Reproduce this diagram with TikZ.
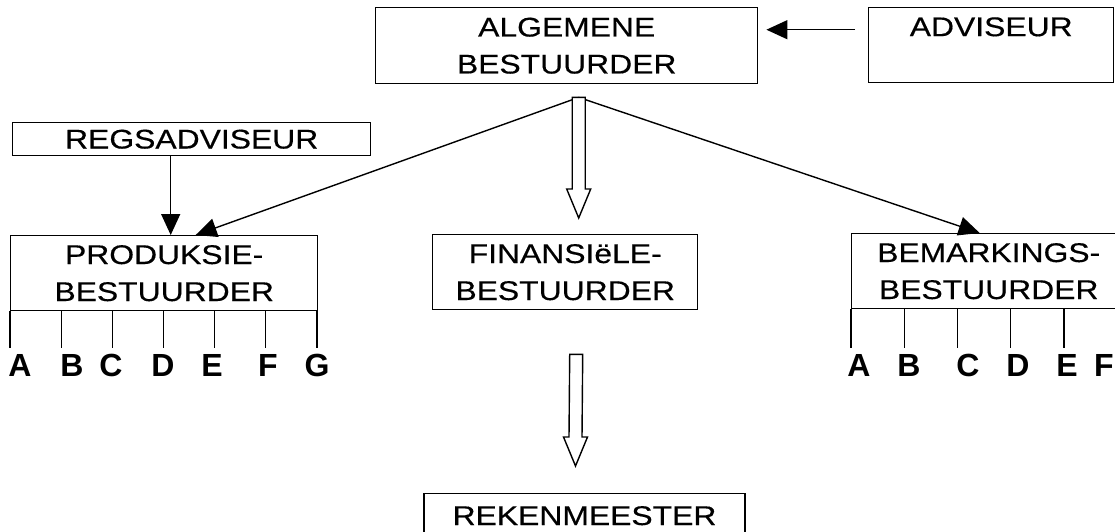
\documentclass[tikz,border=0pt]{standalone}
\usepackage{fontspec}
\setmainfont{Liberation Sans}[FakeStretch=1.18,FakeBold=0.4]
\newfontfamily\letterfont{Liberation Sans}
\usetikzlibrary{arrows.meta,calc}
\tikzset{
  box/.style={draw, line width=1.4pt, inner sep=0pt, align=center,
    font=\fontsize{27}{37}\selectfont, anchor=north west},
  arr/.style={line width=1.4pt, -{Triangle[length=21pt,width=19pt]}},
  hollow/.style={draw, line width=1.4pt, fill=white, line join=miter},
  tick/.style={line width=1.1pt},
  letter/.style={font=\letterfont\fontsize{32}{32}\selectfont\bfseries, inner sep=0pt}
}
\newcommand\hollowarrow[2]{%
  \draw[hollow] ($(#1)+(-6.5,0)$) -- ($(#2)+(-6.5,29)$) -- ($(#2)+(-12,29)$) -- (#2)
    -- ($(#2)+(12,29)$) -- ($(#2)+(6.5,29)$) -- ($(#1)+(6.5,0)$) -- cycle;}
\begin{document}
\begin{tikzpicture}[x=1pt,y=1pt]
\useasboundingbox (0,0) rectangle (1115,-531);
\clip (0,0) rectangle (1115,-531);
% boxes
\node[box, minimum width=382pt, minimum height=76pt] (alg) at (375,-7) {ALGEMENE\\BESTUURDER};
\node[box, minimum width=245pt, minimum height=75pt] (adv) at (868,-7) {ADVISEUR\\\mbox{}};
\node[box, minimum width=358pt, minimum height=33pt] (regs) at (12,-122) {REGSADVISEUR};
\node[box, minimum width=307pt, minimum height=75pt] (prod) at (10,-235) {PRODUKSIE-\\BESTUURDER};
\node[box, minimum width=265pt, minimum height=75pt] (fin) at (432,-234) {FINANSIëLE-\\BESTUURDER};
\node[box, minimum width=274pt, minimum height=75pt] (bem) at (851,-233) {BEMARKINGS-\\BESTUURDER};
\node[box, minimum width=321pt, minimum height=44pt, anchor=north] (rek) at (584.5,-493) {REKENMEESTER};
% connectors
\draw[arr] ([yshift=15.5pt,xshift=-13pt]adv.west) -- ([yshift=16pt,xshift=8pt]alg.east);
\draw[arr] ([xshift=-21pt]regs.south) -- ([xshift=6.5pt]prod.north);
\coordinate (apex) at ([xshift=12pt,yshift=-13pt]alg.south);
\draw[arr] (apex) -- ([xshift=31.5pt]prod.north);
\draw[arr] (apex) -- ([xshift=-9pt]bem.north);
\coordinate (tipA) at ([xshift=13.5pt,yshift=16pt]fin.north);
\hollowarrow{apex}{tipA}
\coordinate (topB) at ([xshift=11pt,yshift=-44pt]fin.south);
\coordinate (tipB) at ([xshift=-9pt,yshift=27pt]rek.north);
\hollowarrow{topB}{tipB}
% ticks
\foreach \i in {0,...,6}
  \draw[tick] ($(prod.south west)+(\i*51.17,0)$) -- ++(0,-37);
\foreach \i in {0,...,4}
  \draw[tick] ($(bem.south west)+(\i*53.25,0)$) -- ++(0,-39);
% letters
\foreach \l/\x in {A/20,B/72,C/111,D/163,E/212,F/268,G/317}
  \node[letter] (p\l) at (\x,-365) {\l};
\foreach \l/\x in {A/859,B/909,C/968,D/1018,E/1067,F/1104}
  \node[letter] (b\l) at (\x,-365) {\l};
\end{tikzpicture}
\end{document}
